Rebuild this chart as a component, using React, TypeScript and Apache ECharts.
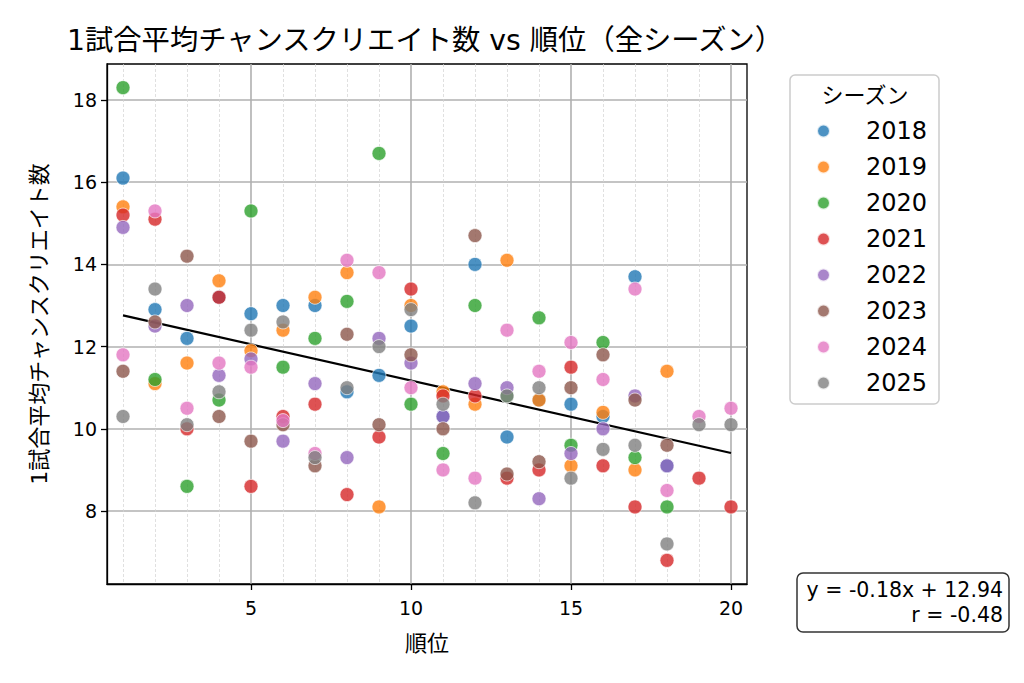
import { useEffect, useRef } from 'react';
import * as echarts from 'echarts';

const TITLE = '1試合平均チャンスクリエイト数 vs 順位（全シーズン）';
const X_NAME = '順位';
const Y_NAME = '1試合平均チャンスクリエイト数';
const LEGEND_TITLE = 'シーズン';

const SEASONS = ['2018', '2019', '2020', '2021', '2022', '2023', '2024', '2025'];
// value per rank (index 0 = rank 1)
const V2018 = [16.1, 12.9, 12.2, 13.2, 12.8, 13.0, 13.0, 10.9, 11.3, 12.5, 10.3, 14.0, 9.8, 10.7, 10.6, 10.3, 13.7, 9.1];
const V2019 = [15.4, 11.1, 11.6, 13.6, 11.9, 12.4, 13.2, 13.8, 8.1, 13.0, 10.9, 10.6, 14.1, 10.7, 9.1, 10.4, 9.0, 11.4];
const V2020 = [18.3, 11.2, 8.6, 10.7, 15.3, 11.5, 12.2, 13.1, 16.7, 10.6, 9.4, 13.0, 10.8, 12.7, 9.6, 12.1, 9.3, 8.1];
const V2021 = [15.2, 15.1, 10.0, 13.2, 8.6, 10.3, 10.6, 8.4, 9.8, 13.4, 10.8, 10.8, 8.8, 9.0, 11.5, 9.1, 8.1, 6.8, 8.8, 8.1];
const V2022 = [14.9, 12.5, 13.0, 11.3, 11.7, 9.7, 11.1, 9.3, 12.2, 11.6, 10.3, 11.1, 11.0, 8.3, 9.4, 10.0, 10.8, 9.1];
const V2023 = [11.4, 12.6, 14.2, 10.3, 9.7, 10.1, 9.1, 12.3, 10.1, 11.8, 10.0, 14.7, 8.9, 9.2, 11.0, 11.8, 10.7, 9.6];
const V2024 = [11.8, 15.3, 10.5, 11.6, 11.5, 10.2, 9.4, 14.1, 13.8, 11.0, 9.0, 8.8, 12.4, 11.4, 12.1, 11.2, 13.4, 8.5, 10.3, 10.5];
const V2025 = [10.3, 13.4, 10.1, 10.9, 12.4, 12.6, 9.3, 11.0, 12.0, 12.9, 10.6, 8.2, 10.8, 11.0, 8.8, 9.5, 9.6, 7.2, 10.1, 10.1];
const VALUES = [V2018, V2019, V2020, V2021, V2022, V2023, V2024, V2025];

const X_TICKS = [5, 10, 15, 20];
const X_MINOR = [1, 2, 3, 4, 6, 7, 8, 9, 11, 12, 13, 14, 16, 17, 18, 19];
const Y_TICKS = [8, 10, 12, 14, 16, 18];
const X_MIN = 0.5;
const X_MAX = 20.5;
const Y_MIN = 6.225;
const Y_MAX = 18.875;

const COLORS = ['#1f77b4', '#ff7f0e', '#2ca02c', '#d62728', '#9467bd', '#8c564b', '#e377c2', '#7f7f7f'];
const FONT = '"DejaVu Sans", "Noto Sans CJK JP", sans-serif';

function fit() {
  const xs: number[] = [];
  const ys: number[] = [];
  VALUES.forEach((arr) => arr.forEach((v, i) => { xs.push(i + 1); ys.push(v); }));
  const n = xs.length;
  const mx = xs.reduce((a, b) => a + b, 0) / n;
  const my = ys.reduce((a, b) => a + b, 0) / n;
  let sxy = 0, sxx = 0, syy = 0;
  for (let i = 0; i < n; i++) {
    sxy += (xs[i] - mx) * (ys[i] - my);
    sxx += (xs[i] - mx) ** 2;
    syy += (ys[i] - my) ** 2;
  }
  const slope = sxy / sxx;
  const intercept = my - slope * mx;
  const r = sxy / Math.sqrt(sxx * syy);
  return { slope, intercept, r, xmin: Math.min(...xs), xmax: Math.max(...xs) };
}

export default function App() {
  const ref = useRef<HTMLDivElement>(null);
  useEffect(() => {
    if (!ref.current) return;
    const chart = echarts.init(ref.current, undefined, { renderer: 'svg' });
    const f = fit();
    const sign = f.intercept >= 0 ? '+' : '-';
    const eq = `y = ${f.slope.toFixed(2)}x ${sign} ${Math.abs(f.intercept).toFixed(2)}`;
    const rText = `r = ${f.r.toFixed(2)}`;

    const scatterSeries = SEASONS.map((s, k) => ({
      name: s,
      type: 'scatter',
      xAxisIndex: 0,
      yAxisIndex: 0,
      symbol: 'circle',
      symbolSize: 14,
      z: 3,
      itemStyle: { color: COLORS[k], opacity: 0.8, borderColor: '#ffffff', borderWidth: 0.8 },
      data: VALUES[k].map((v, i) => [i + 1, v]),
    }));

    const option: any = {
      animation: false,
      backgroundColor: '#ffffff',
      textStyle: { fontFamily: FONT },
      title: {
        text: TITLE,
        left: 67,
        top: 26,
        padding: 0,
        textStyle: { fontFamily: FONT, fontSize: 28.3, fontWeight: 'normal', color: '#000' },
      },
      grid: {
        left: 107, top: 64, width: 640, height: 520,
        show: true, borderColor: '#000', borderWidth: 1.3, backgroundColor: 'transparent',
        outerBoundsMode: 'none',
      },
      xAxis: [
        {
          type: 'value', min: X_MIN, max: X_MAX,
          name: X_NAME, nameLocation: 'middle', nameGap: 48,
          nameTextStyle: { fontFamily: FONT, fontSize: 22, color: '#000' },
          axisLine: { show: true, onZero: false, lineStyle: { color: '#000', width: 1.3 } },
          axisTick: { show: true, customValues: X_TICKS, length: 6, inside: false, lineStyle: { color: '#000', width: 1.3 } },
          axisLabel: { customValues: X_TICKS, fontFamily: FONT, fontSize: 19, color: '#000', margin: 14 },
          splitLine: { show: true, lineStyle: { color: '#b0b0b0', width: 1.6 } },
          z: 2,
        },
        {
          type: 'value', min: X_MIN, max: X_MAX, position: 'bottom',
          axisLine: { show: false },
          axisTick: { show: false, customValues: X_MINOR },
          axisLabel: { show: false, customValues: X_MINOR },
          splitLine: { show: true, lineStyle: { color: '#d2d2d2', width: 0.7, type: [3, 2] } },
          z: 1,
        },
      ],
      yAxis: {
        type: 'value', min: Y_MIN, max: Y_MAX,
        name: Y_NAME, nameLocation: 'middle', nameGap: 57, nameRotate: 90,
        nameTextStyle: { fontFamily: FONT, fontSize: 22, color: '#000' },
        axisLine: { show: true, onZero: false, lineStyle: { color: '#000', width: 1.3 } },
        axisTick: { show: true, customValues: Y_TICKS, length: 6, lineStyle: { color: '#000', width: 1.3 } },
        axisLabel: { customValues: Y_TICKS, fontFamily: FONT, fontSize: 19, color: '#000', margin: 10 },
        splitLine: { show: true, lineStyle: { color: '#b0b0b0', width: 1.6 } },
      },
      legend: {
        data: SEASONS,
        orient: 'vertical',
        left: 816,
        top: 118,
        padding: 0,
        itemWidth: 13,
        itemHeight: 13,
        itemGap: 10,
        icon: 'circle',
        z: 5,
        textStyle: { fontFamily: FONT, fontSize: 24, color: '#000', lineHeight: 26, padding: [0, 0, 0, 31] },
      },
      graphic: [
        {
          type: 'rect', z: 4,
          shape: { x: 790, y: 75, width: 149, height: 329, r: 5 },
          style: { fill: 'rgba(255,255,255,0.8)', stroke: '#cccccc', lineWidth: 1.5 },
        },
        {
          type: 'text', z: 5,
          x: 865, y: 95,
          style: { text: LEGEND_TITLE, fontFamily: FONT, fontSize: 22, fill: '#000', align: 'center', verticalAlign: 'middle' },
        },
        {
          type: 'rect', z: 4,
          shape: { x: 797, y: 573, width: 212, height: 59, r: 6 },
          style: { fill: '#ffffff', stroke: '#333333', lineWidth: 1.5 },
        },
        {
          type: 'text', z: 5,
          x: 1003, y: 590,
          style: { text: eq, fontFamily: FONT, fontSize: 20.5, fill: '#000', align: 'right', verticalAlign: 'middle' },
        },
        {
          type: 'text', z: 5,
          x: 1003, y: 615,
          style: { text: rText, fontFamily: FONT, fontSize: 20.5, fill: '#000', align: 'right', verticalAlign: 'middle' },
        },
      ],
      series: [
        {
          name: 'fit',
          type: 'line',
          xAxisIndex: 0,
          yAxisIndex: 0,
          z: 2,
          symbol: 'none',
          silent: true,
          lineStyle: { color: '#000', width: 2.2 },
          data: [[f.xmin, f.intercept + f.slope * f.xmin], [f.xmax, f.intercept + f.slope * f.xmax]],
        },
        ...scatterSeries,
      ],
    };
    chart.setOption(option);
    return () => chart.dispose();
  }, []);
  return <div ref={ref} style={{ position: 'fixed', left: 0, top: 0, width: 1024, height: 683 }} />;
}
